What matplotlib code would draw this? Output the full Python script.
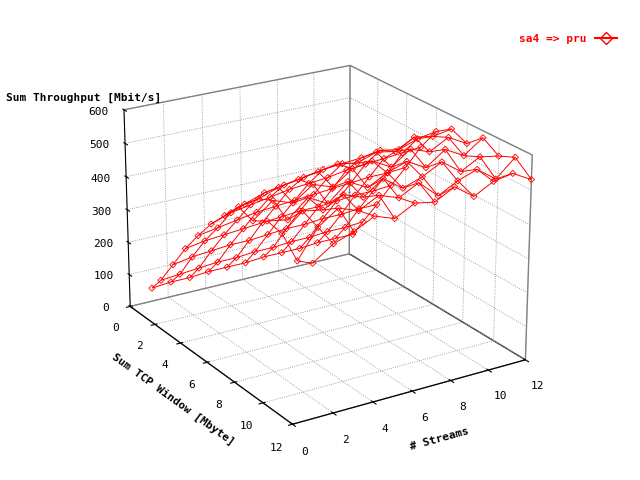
import numpy as np
import matplotlib
matplotlib.use("Agg")
import matplotlib.pyplot as plt

# sum TCP window [Mbyte] and number of streams
window = [0.25, 1, 2, 3, 4, 5, 6, 7, 8, 9, 10, 11, 12]
streams = [1, 2, 3, 4, 5, 6, 7, 8, 9, 10, 11, 12]

# sum throughput [Mbit/s], one row per stream count
thr = [
    [50, 95, 170, 245, 310, 370, 420, 470, 455, 480, 470, 420, 440],
    [55, 100, 180, 255, 320, 390, 440, 480, 500, 470, 520, 500, 480],
    [55, 105, 185, 260, 330, 400, 460, 500, 480, 520, 510, 540, 500],
    [60, 110, 190, 265, 340, 410, 470, 510, 520, 490, 540, 520, 530],
    [60, 110, 190, 270, 345, 420, 480, 520, 500, 540, 520, 550, 510],
    [60, 115, 195, 275, 350, 425, 490, 530, 540, 510, 560, 530, 540],
    [65, 115, 200, 280, 355, 430, 495, 520, 550, 540, 520, 560, 530],
    [65, 120, 200, 280, 360, 440, 500, 540, 520, 560, 540, 510, 560],
    [65, 120, 205, 285, 365, 445, 510, 530, 560, 530, 570, 540, 520],
    [70, 125, 205, 290, 370, 450, 500, 560, 540, 570, 530, 560, 550],
    [70, 125, 210, 290, 370, 455, 520, 550, 570, 540, 560, 520, 560],
    [70, 130, 210, 295, 375, 460, 530, 560, 540, 580, 550, 570, 530],
]

X, Y = np.meshgrid(window, streams)
Z = np.array(thr)

fig = plt.figure(figsize=(6.4, 4.8), dpi=100)
ax = fig.add_subplot(111, projection="3d")
ax.view_init(elev=22, azim=-32)
ax.set_box_aspect((1.2, 1.0, 0.8))

ax.plot_wireframe(X, Y, Z, color="red", linewidth=0.7)
ax.scatter(X, Y, Z, marker="D", s=10, facecolors="none", edgecolors="red", linewidths=0.6, depthshade=False)
h, = ax.plot([], [], color="red", marker="D", mfc="none")

ax.set_xlim(0, 12)
ax.set_ylim(0, 12)
ax.set_zlim(0, 600)
ax.set_xticks([0, 2, 4, 6, 8, 10, 12])
ax.set_yticks([0, 2, 4, 6, 8, 10, 12])
ax.set_zticks([0, 100, 200, 300, 400, 500, 600])

# move the z axis to the left side, like gnuplot
ax.zaxis._axinfo["juggled"] = (1, 2, 0)

font = dict(family="DejaVu Sans Mono", fontsize=8, fontweight="bold")
ax.set_xlabel("Sum TCP Window [Mbyte]", **font)
ax.set_ylabel("# Streams", **font)
for lab in ax.get_xticklabels() + ax.get_yticklabels() + ax.get_zticklabels():
    lab.set_fontfamily("DejaVu Sans Mono")
    lab.set_fontsize(8)
fig.text(0.01, 0.79, "Sum Throughput [Mbit/s]", **font)

for a in (ax.xaxis, ax.yaxis, ax.zaxis):
    a.pane.fill = False
    a.pane.set_edgecolor("black")
    a._axinfo["grid"]["color"] = "#888888"
    a._axinfo["grid"]["linestyle"] = ":"
    a._axinfo["grid"]["linewidth"] = 0.6

leg = fig.legend([h], ["sa4 => pru"], loc="upper right", bbox_to_anchor=(0.98, 0.95),
                 frameon=False, markerfirst=False,
                 prop=dict(family="DejaVu Sans Mono", size=8, weight="bold"))
for t in leg.get_texts():
    t.set_color("red")

plt.subplots_adjust(left=0.02, right=0.97, bottom=0.02, top=0.98)
plt.savefig("out.png", dpi=100)
